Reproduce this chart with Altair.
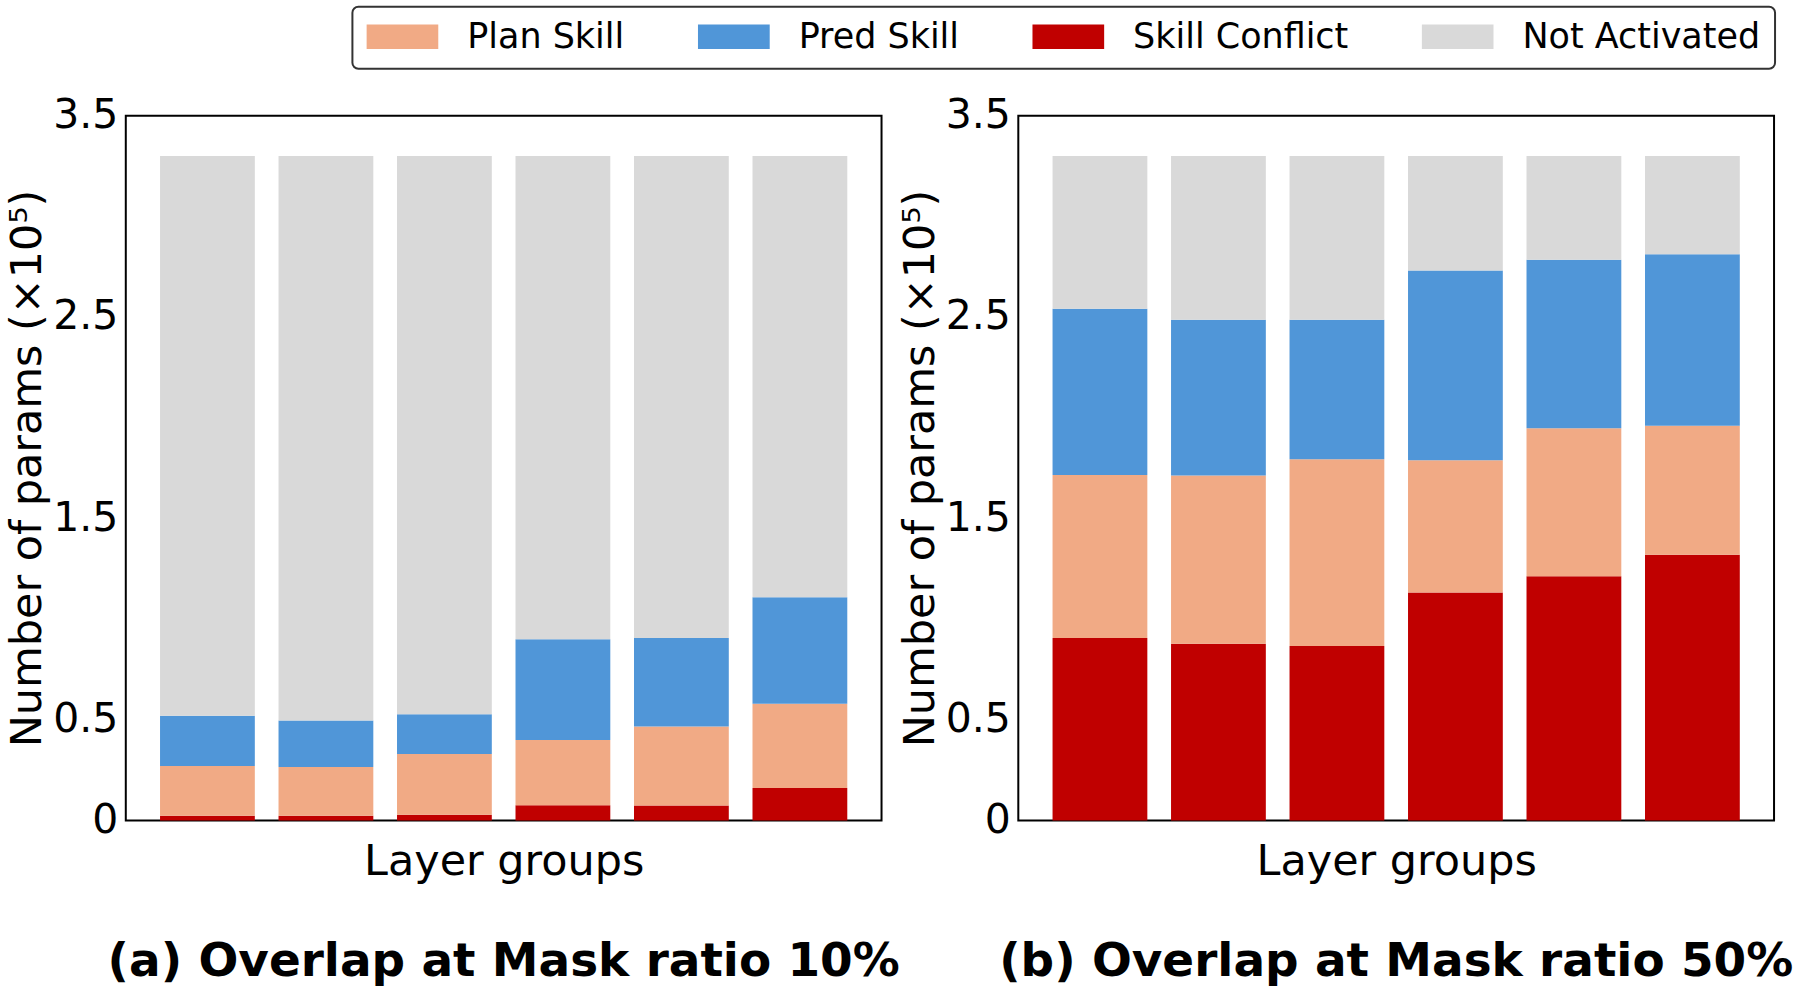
import altair as alt
import pandas as pd

groups = ["G1", "G2", "G3", "G4", "G5", "G6"]
categories = ["Plan Skill", "Pred Skill", "Skill Conflict", "Not Activated"]
colors = ["#F1AA85", "#5096D8", "#C00000", "#D9D9D9"]
stack_rank = {"Skill Conflict": 0, "Plan Skill": 1, "Pred Skill": 2, "Not Activated": 3}

# Panel (a): mask ratio 10%  (units of 1e5 params)
a_conflict = [0.024, 0.024, 0.028, 0.076, 0.074, 0.161]
a_plan = [0.246, 0.242, 0.302, 0.324, 0.393, 0.418]
a_pred = [0.250, 0.230, 0.197, 0.500, 0.439, 0.529]
a_notact = [2.780, 2.804, 2.773, 2.400, 2.394, 2.192]

# Panel (b): mask ratio 50%
b_conflict = [0.906, 0.878, 0.866, 1.132, 1.213, 1.319]
b_plan = [0.810, 0.835, 0.928, 0.657, 0.735, 0.641]
b_pred = [0.825, 0.774, 0.693, 0.942, 0.836, 0.852]
b_notact = [0.759, 0.813, 0.813, 0.569, 0.516, 0.488]

y_ticks = [0, 0.5, 1.5, 2.5, 3.5]
FONT = "DejaVu Sans"


def make_df(conflict, plan, pred, notact):
    rows = []
    series = {"Skill Conflict": conflict, "Plan Skill": plan,
              "Pred Skill": pred, "Not Activated": notact}
    for cat, vals in series.items():
        for g, v in zip(groups, vals):
            rows.append({"group": g, "category": cat, "value": v, "rank": stack_rank[cat]})
    return pd.DataFrame(rows)


def panel(df, title):
    return alt.Chart(df).mark_bar(strokeWidth=0).encode(
        x=alt.X("group:N", sort=groups,
                scale=alt.Scale(paddingInner=0.2, paddingOuter=0.289),
                axis=alt.Axis(title="Layer groups", labels=False, ticks=False, domain=False,
                              titleFontSize=43, titleFont=FONT, titleFontWeight="normal",
                              titleColor="black", titlePadding=20)),
        y=alt.Y("value:Q", stack="zero",
                scale=alt.Scale(domain=[0, 3.5], nice=False, zero=True),
                axis=alt.Axis(values=y_ticks, grid=False, domain=False, ticks=False,
                              labelExpr="datum.value == 0 ? '0' : format(datum.value, '.1f')",
                              labelFontSize=41, labelFont=FONT, labelColor="black", labelPadding=8,
                              title="Number of params (×10⁵)", titleFontSize=43, titleFont=FONT,
                              titleFontWeight="normal", titleColor="black", titlePadding=3)),
        color=alt.Color("category:N",
                        scale=alt.Scale(domain=categories, range=colors),
                        legend=alt.Legend(orient="none", legendX=227, legendY=-109,
                                          direction="horizontal", columns=4, title=None,
                                          symbolType="M-1,-0.34H1V0.34H-1Z", symbolSize=5184,
                                          symbolStrokeWidth=0, symbolOpacity=1, clipHeight=32,
                                          labelFontSize=35, labelFont=FONT, labelColor="black",
                                          labelOffset=29, columnPadding=73, labelLimit=0)),
        order=alt.Order("rank:Q", sort="ascending"),
    ).properties(
        width=757, height=706,
        title=alt.TitleParams(title, orient="bottom", anchor="middle", frame="group",
                              fontSize=47, font=FONT, fontWeight="bold", color="black",
                              offset=56),
    )


pa = panel(make_df(a_conflict, a_plan, a_pred, a_notact), "(a) Overlap at Mask ratio 10%")
pb = panel(make_df(b_conflict, b_plan, b_pred, b_notact), "(b) Overlap at Mask ratio 50%")

chart = alt.hconcat(pa, pb, spacing=137, bounds="flush").resolve_scale(
    color="shared"
).resolve_legend(color="shared").properties(
    padding={"left": 5, "top": 5, "right": 5, "bottom": 5}
).configure_view(
    stroke="black", strokeWidth=2
).configure_legend(
    padding=14, strokeColor="#333333", strokeWidth=2, cornerRadius=6, fillColor="white"
)

chart.save("out.html", embed_options={"renderer": "svg", "actions": False})
